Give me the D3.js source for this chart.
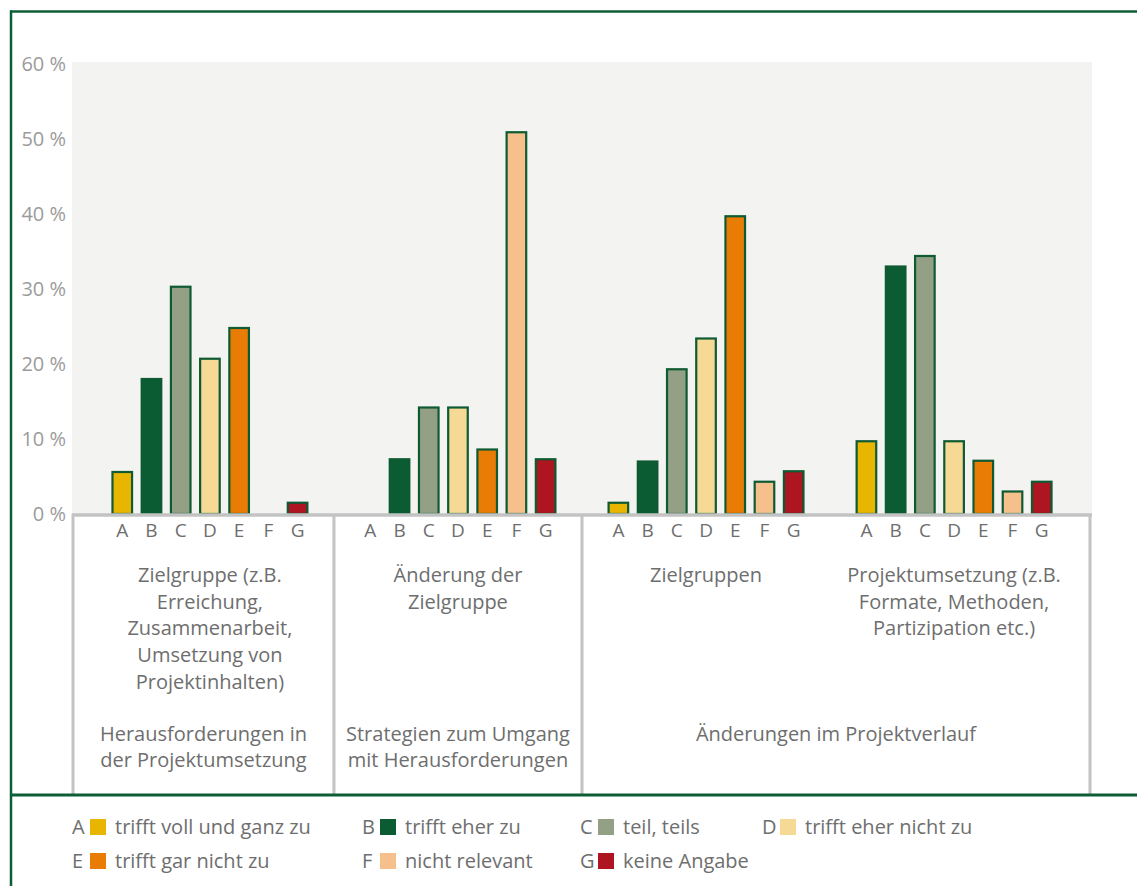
<!DOCTYPE html>
<html><head><meta charset="utf-8">
<script src="https://cdn.jsdelivr.net/npm/d3@7"></script>
<style>
body{margin:0;background:#fff;}
svg{display:block;font-family:"Open Sans", sans-serif;}
</style></head>
<body>
<svg id="chart" width="1137" height="886"></svg>
<script>
// ---- data ----
const letters = ["A","B","C","D","E","F","G"];
const legendLabels = ["trifft voll und ganz zu","trifft eher zu","teil, teils","trifft eher nicht zu","trifft gar nicht zu","nicht relevant","keine Angabe"];
const colors = ["#e8b500","#0b5c33","#94a085","#f5d994","#e87c05","#f6c08c","#ad1520"];
const subcategories = [
  ["Zielgruppe (z.B.","Erreichung,","Zusammenarbeit,","Umsetzung von","Projektinhalten)"],
  ["Änderung der","Zielgruppe"],
  ["Zielgruppen"],
  ["Projektumsetzung (z.B.","Formate, Methoden,","Partizipation etc.)"]
];
const groupLabels = [
  ["Herausforderungen in","der Projektumsetzung"],
  ["Strategien zum Umgang","mit Herausforderungen"],
  ["Änderungen im Projektverlauf"]
];
const values = [
  [5.6, 18.0, 30.3, 20.7, 24.8, 0, 1.5],
  [0, 7.3, 14.2, 14.2, 8.6, 50.9, 7.3],
  [1.5, 7.0, 19.3, 23.4, 39.7, 4.3, 5.7],
  [9.7, 33.0, 34.4, 9.7, 7.1, 3.0, 4.3]
];
const yTicks = [0,10,20,30,40,50,60];

// ---- layout ----
const svg = d3.select("#chart");
const plotL = 72, plotR = 1092, plotT = 62, zeroY = 514, bottomY = 795;
const frameColor = "#0b5e35";
const textColor = "#6e6e6e";
const fs = "20px";

const x0 = d3.scaleBand().domain(d3.range(4)).range([plotL, plotR]).paddingOuter(0.056).paddingInner(0);
const x1 = d3.scaleBand().domain(letters).range([0, x0.bandwidth()]).paddingInner(0.33).paddingOuter(0.91);
const y = d3.scaleLinear().domain([0,60]).range([zeroY, 64]);

// plot background
svg.append("rect").attr("x",plotL).attr("y",plotT).attr("width",plotR-plotL).attr("height",zeroY-plotT).attr("fill","#f3f3f2");

// y axis
const yAxis = d3.axisLeft(y).tickValues(yTicks).tickSize(0).tickPadding(6).tickFormat(d=>d+" %");
const ya = svg.append("g").attr("transform",`translate(${plotL},0)`).call(yAxis);
ya.select(".domain").remove();
ya.selectAll("text").attr("fill","#9b9b9b").style("font-size","20px").style("font-family","'Open Sans', sans-serif");

// bars
const gBars = svg.append("g");
values.forEach((vals, gi) => {
  const g = gBars.append("g").attr("transform",`translate(${x0(gi)},0)`);
  g.selectAll("rect").data(vals.map((v,i)=>({v,i}))).join("rect")
    .filter(d=>d.v>0)
    .attr("x",d=>x1(letters[d.i]))
    .attr("y",d=>y(d.v))
    .attr("width",x1.bandwidth())
    .attr("height",d=>zeroY-y(d.v))
    .attr("fill",d=>colors[d.i])
    .attr("stroke","#0e5a32").attr("stroke-width",2.2);
  // letter axis
  const xa = d3.axisBottom(x1).tickSize(0).tickPadding(10);
  const ag = svg.append("g").attr("transform",`translate(${x0(gi)},${zeroY})`).call(xa);
  ag.select(".domain").remove();
  ag.selectAll("text").attr("fill",textColor).style("font-size","19px").style("font-family","'Open Sans', sans-serif");
  // subcategory label
  const cx = x0(gi)+x0.bandwidth()/2;
  const t = svg.append("text").attr("x",cx).attr("y",582)
    .attr("text-anchor","middle").attr("fill",textColor).style("font-size",fs);
  subcategories[gi].forEach((line,li)=>t.append("tspan").attr("x",cx).attr("dy",li?26.7:0).text(line));
});

// group boxes
const boundaries = [plotL+1, x0(1), x0(2), plotR-2];
const lineCol = "#c3c3c3";
svg.append("line").attr("x1",plotL).attr("x2",plotR).attr("y1",zeroY+1).attr("y2",zeroY+1).attr("stroke",lineCol).attr("stroke-width",3.5);
boundaries.forEach(bx=>{
  svg.append("line").attr("x1",bx).attr("x2",bx).attr("y1",zeroY).attr("y2",bottomY).attr("stroke",lineCol).attr("stroke-width",3);
});
groupLabels.forEach((gl,gi)=>{
  const left = boundaries[gi], right = boundaries[gi+1];
  const cx = (left+right)/2;
  const t = svg.append("text").attr("x",cx).attr("y",741)
    .attr("text-anchor","middle").attr("fill",textColor).style("font-size",fs);
  gl.forEach((line,li)=>t.append("tspan").attr("x",cx).attr("dy",li?26:0).text(line));
});

// frame
svg.append("line").attr("x1",10).attr("x2",1137).attr("y1",11.5).attr("y2",11.5).attr("stroke",frameColor).attr("stroke-width",2.5);
svg.append("line").attr("x1",11).attr("x2",11).attr("y1",10.5).attr("y2",886).attr("stroke",frameColor).attr("stroke-width",2.5);
svg.append("line").attr("x1",10).attr("x2",1137).attr("y1",795).attr("y2",795).attr("stroke",frameColor).attr("stroke-width",3);

// legend
const legX = [72, 362, 580, 762];
const legY = [827, 861];
letters.forEach((l,i)=>{
  const col = i<4 ? i : i-4;
  const row = i<4 ? 0 : 1;
  const g = svg.append("g").attr("transform",`translate(${legX[col]},${legY[row]})`);
  g.append("text").attr("x",0).attr("y",7).attr("fill",textColor).style("font-size",fs).text(l);
  g.append("rect").attr("x",18).attr("y",-8).attr("width",16).attr("height",16).attr("fill",colors[i]);
  g.append("text").attr("x",43).attr("y",7).attr("fill",textColor).style("font-size",fs).text(legendLabels[i]);
});
</script>
</body></html>
